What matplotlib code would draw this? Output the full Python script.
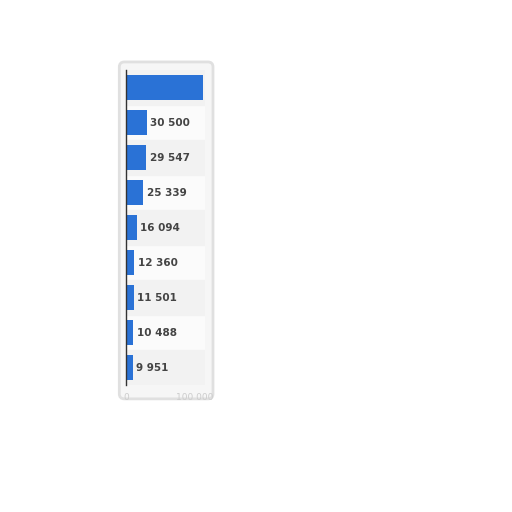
import numpy as np
import matplotlib.pyplot as plt
from matplotlib.patches import FancyBboxPatch

# values, top to bottom
values = [113000, 30500, 29547, 25339, 16094, 12360, 11501, 10488, 9951]
labels = ["", "30 500", "29 547", "25 339", "16 094", "12 360", "11 501", "10 488", "9 951"]
tick_vals = [0, 100000]
tick_text = ["0", "100 000"]

fig = plt.figure(figsize=(5.12, 5.12), dpi=100)
fig.patch.set_facecolor("white")

# soft grey frame around the panel
frame = FancyBboxPatch((0.237, 0.225), 0.175, 0.65, boxstyle="round,pad=0.004,rounding_size=0.01",
                       transform=fig.transFigure, facecolor="#f6f6f6", edgecolor="#e0e0e0",
                       linewidth=2, zorder=-1)
fig.patches.append(frame)

ax = fig.add_axes([0.246, 0.248, 0.154, 0.615])
ax.set_zorder(1)
ax.set_facecolor("#fbfbfb")
n = len(values)
y = np.arange(n)

# alternating row bands
for i in y:
    if i % 2 == 0:
        ax.axhspan(i - 0.5, i + 0.5, color="#f2f2f2", zorder=0)

ax.barh(y, values, height=0.72, color="#2a72d6", zorder=2)
for i, (v, t) in enumerate(zip(values, labels)):
    if t:
        ax.text(v + 5000, i, t, va="center", ha="left", fontsize=7.5,
                fontweight="bold", color="#444444", zorder=3)

ax.set_xlim(0, 115000)
ax.set_ylim(n - 0.5, -0.5)
ax.set_yticks([])
ax.set_xticks(tick_vals)
ax.set_xticklabels(tick_text, fontsize=6.5, color="#cccccc")
ax.tick_params(axis="x", length=0, pad=6)
for s in ["top", "right", "bottom"]:
    ax.spines[s].set_visible(False)
ax.spines["left"].set_color("#333333")
ax.spines["left"].set_linewidth(1)

fig.savefig("out.png", dpi=100)
